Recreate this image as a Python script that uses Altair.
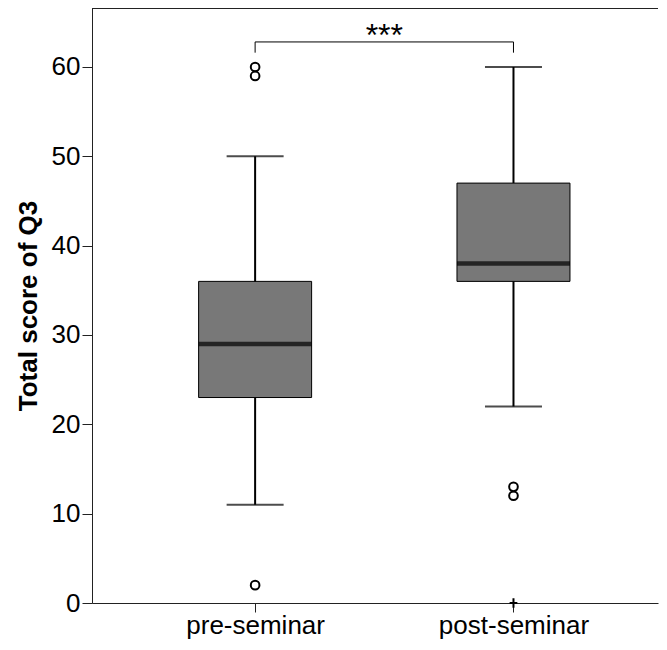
import altair as alt
import pandas as pd

# ---- data ----
groups = ["pre-seminar", "post-seminar"]
group_idx = [0, 1]
whisker_low = [11, 22]
q1 = [23, 36]
median = [29, 38]
q3 = [36, 47]
whisker_high = [50, 60]

outlier_group = [0, 0, 0, 1, 1]
outlier_value = [2, 59, 60, 12, 13]

extreme_group = [1]
extreme_value = [0]

sig_label = "***"
sig_y = 62.8
sig_drop = 61.6

W, H = 566, 595

box = pd.DataFrame({
    "g": group_idx, "name": groups, "lo": whisker_low, "q1": q1,
    "med": median, "q3": q3, "hi": whisker_high,
})
outl = pd.DataFrame({"g": outlier_group, "v": outlier_value})
extr = pd.DataFrame({"g": extreme_group, "v": extreme_value})
bracket = pd.DataFrame({"g": [group_idx[0]], "g2": [group_idx[1]], "y": [sig_y]})
drops = pd.DataFrame({"g": group_idx, "y": [sig_drop] * 2, "y2": [sig_y] * 2})
sig = pd.DataFrame({"g": [(group_idx[0] + group_idx[1]) / 2], "y": [sig_y], "t": [sig_label]})

label_expr = "datum.value == 0 ? '%s' : '%s'" % (groups[0], groups[1])

xscale = alt.Scale(domain=[-0.612, 1.540], nice=False, zero=False)
yscale = alt.Scale(domain=[0, 66.6], nice=False, zero=False)

x_axis = alt.Axis(values=[0, 1], labelExpr=label_expr, title=None, grid=False,
                  tickSize=9, tickColor="#222", domainColor="#222", labelColor="#000",
                  labelFontSize=26, labelFont="Liberation Sans", labelPadding=0,
                  labelFlush=False)
y_axis = alt.Axis(values=[0, 10, 20, 30, 40, 50, 60], title="Total score of Q3", grid=False,
                  tickSize=10, tickColor="#222", domainColor="#222", labelColor="#000",
                  labelFontSize=26, labelFont="Liberation Sans", labelPadding=2,
                  titleFontSize=26, titleFont="Liberation Sans", titleFontWeight="bold",
                  titleColor="#000", titlePadding=10)

X = alt.X("g:Q", scale=xscale, axis=x_axis)

whisk = alt.Chart(box).mark_rule(color="black", strokeWidth=2).encode(
    x=X, y=alt.Y("lo:Q", scale=yscale, axis=y_axis), y2="hi:Q")

caps_lo = alt.Chart(box).mark_tick(color="black", size=57, thickness=2, orient="horizontal").encode(
    x=alt.X("g:Q", scale=xscale), y=alt.Y("lo:Q", scale=yscale))
caps_hi = alt.Chart(box).mark_tick(color="black", size=57, thickness=2, orient="horizontal").encode(
    x=alt.X("g:Q", scale=xscale), y=alt.Y("hi:Q", scale=yscale))

boxes = alt.Chart(box).mark_bar(size=113, fill="#787878", stroke="black", strokeWidth=1).encode(
    x=alt.X("g:Q", scale=xscale), y=alt.Y("q1:Q", scale=yscale), y2="q3:Q")

meds = alt.Chart(box).mark_tick(color="black", size=113, thickness=4.5, orient="horizontal").encode(
    x=alt.X("g:Q", scale=xscale), y=alt.Y("med:Q", scale=yscale))

pts = alt.Chart(outl).mark_point(shape="circle", filled=False, color="black", size=75,
                                 strokeWidth=2, opacity=1).encode(
    x=alt.X("g:Q", scale=xscale), y=alt.Y("v:Q", scale=yscale))

ext = alt.Chart(extr).mark_point(shape="M-1,0L1,0M0,-1.2L0,1.2", filled=False, color="black",
                                 size=60, strokeWidth=2, opacity=1).encode(
    x=alt.X("g:Q", scale=xscale), y=alt.Y("v:Q", scale=yscale))

br = alt.Chart(bracket).mark_rule(color="black", strokeWidth=1).encode(
    x=alt.X("g:Q", scale=xscale), x2="g2:Q", y=alt.Y("y:Q", scale=yscale))
dr = alt.Chart(drops).mark_rule(color="black", strokeWidth=1).encode(
    x=alt.X("g:Q", scale=xscale), y=alt.Y("y:Q", scale=yscale), y2="y2:Q")
st = alt.Chart(sig).mark_text(fontSize=32, font="Liberation Sans", color="black",
                              baseline="alphabetic", align="center", dy=4).encode(
    x=alt.X("g:Q", scale=xscale), y=alt.Y("y:Q", scale=yscale), text="t:N")

top = alt.Chart(box).mark_rule(color="#222", strokeWidth=2).encode(
    x=alt.value(0), x2=alt.value(W), y=alt.value(0))

chart = alt.layer(whisk, caps_lo, caps_hi, boxes, meds, pts, ext, br, dr, st, top).properties(
    width=W, height=H,
    autosize=alt.AutoSizeParams(type="none"),
    padding={"left": 84, "top": 0, "right": 1, "bottom": 36},
    background="white",
).configure_view(stroke=None)

chart.save("out.html", embed_options={"renderer": "svg", "actions": False})
